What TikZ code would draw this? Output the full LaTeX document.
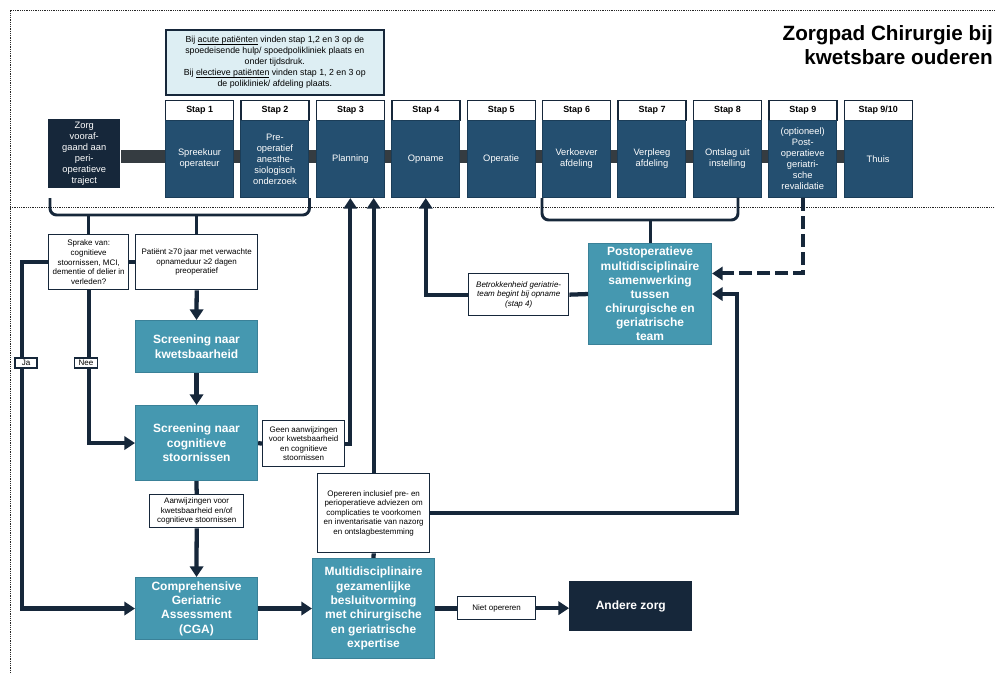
\documentclass[tikz,border=0pt]{standalone}
\usepackage{fontspec}
\setmainfont{Liberation Sans}
\usetikzlibrary{arrows.meta}
\definecolor{navy}{HTML}{16273A}
\definecolor{stepblue}{HTML}{244F70}
\definecolor{stepedge}{HTML}{1B3D58}
\definecolor{tealc}{HTML}{4598B0}
\definecolor{tealedge}{HTML}{3A8198}
\definecolor{infofill}{HTML}{DDEEF3}
\definecolor{barc}{HTML}{353C41}
\newcommand\undl[1]{\leavevmode\setbox0=\hbox{#1}\rlap{\raisebox{-1.4pt}{\rule{\wd0}{0.45pt}}}\box0\relax}
\pgfdeclarelayer{bg}\pgfsetlayers{bg,main}
\tikzset{
 wh/.style 2 args={minimum width=#1*0.75pt, minimum height=#2*0.75pt},
 base/.style={anchor=north west, inner sep=1pt, align=center},
 stephead/.style={base, draw=navy, line width=1pt, fill=white, font=\bfseries\fontsize{6.7}{8}\selectfont},
 stepbody/.style={base, draw=stepedge, line width=0.8pt, fill=stepblue, text=white, font=\fontsize{7}{8.25}\selectfont},
 darkbox/.style={base, fill=navy, text=white},
 tealbox/.style={base, draw=tealedge, line width=0.8pt, fill=tealc, text=white, font=\bfseries\fontsize{9}{10.8}\selectfont},
 wbox/.style={base, draw=navy, line width=1pt, fill=white, font=\fontsize{6}{7.2}\selectfont},
 lbl/.style={wbox, anchor=center, inner sep=0.5pt},
 conn/.style={draw=navy, line width=3.2pt},
 arr/.style={conn, -{Triangle[width=10pt,length=8pt]}},
 brk/.style={draw=navy, line width=2.2pt, rounded corners=5pt},
 dotl/.style={draw=black!85, line width=0.7pt, dash pattern=on 0.75pt off 0.6pt},
}
\begin{document}
\begin{tikzpicture}[x=0.75pt,y=-0.75pt]
\useasboundingbox (0,0) rectangle (995,673);
% title
\node[anchor=north east, align=right, inner sep=0, font=\bfseries\fontsize{15.5}{18}\selectfont] (title) at (993,25) {Zorgpad Chirurgie bij\\kwetsbare ouderen};
% info box
\node[base, draw=navy, line width=1.2pt, fill=infofill, wh={218}{65}, font=\fontsize{6.6}{8.2}\selectfont] (info) at (165,29)
 {Bij \undl{acute patiënten} vinden stap 1,2 en 3 op de\\spoedeisende hulp/ spoedpolikliniek plaats en\\onder tijdsdruk.\\Bij \undl{electieve patiënten} vinden stap 1, 2 en 3 op\\de polikliniek/ afdeling plaats.};
% zorg
\node[darkbox, wh={72}{69}, font=\fontsize{7}{8.25}\selectfont] (zorg) at (48,119) {Zorg\\vooraf-\\gaand aan\\peri-\\operatieve\\traject};
% steps
\node[stephead, wh={68}{20}] (h1) at (165,100) {Stap 1};
\node[stepbody, wh={68}{77}] (s1) at (165,120) {Spreekuur\\operateur};
\node[stephead, wh={68}{20}] (h2) at (240.4,100) {Stap 2};
\node[stepbody, wh={68}{77}] (s2) at (240.4,120) {Pre-\\operatief\\anesthe-\\siologisch\\onderzoek};
\node[stephead, wh={68}{20}] (h3) at (315.8,100) {Stap 3};
\node[stepbody, wh={68}{77}] (s3) at (315.8,120) {Planning};
\node[stephead, wh={68}{20}] (h4) at (391.2,100) {Stap 4};
\node[stepbody, wh={68}{77}] (s4) at (391.2,120) {Opname};
\node[stephead, wh={68}{20}] (h5) at (466.6,100) {Stap 5};
\node[stepbody, wh={68}{77}] (s5) at (466.6,120) {Operatie};
\node[stephead, wh={68}{20}] (h6) at (542,100) {Stap 6};
\node[stepbody, wh={68}{77}] (s6) at (542,120) {Verkoever\\afdeling};
\node[stephead, wh={68}{20}] (h7) at (617.4,100) {Stap 7};
\node[stepbody, wh={68}{77}] (s7) at (617.4,120) {Verpleeg\\afdeling};
\node[stephead, wh={68}{20}] (h8) at (692.8,100) {Stap 8};
\node[stepbody, wh={68}{77}] (s8) at (692.8,120) {Ontslag uit\\instelling};
\node[stephead, wh={68}{20}] (h9) at (768.2,100) {Stap 9};
\node[stepbody, wh={68}{77}] (s9) at (768.2,120) {(optioneel)\\Post-\\operatieve\\geriatri-\\sche\\revalidatie};
\node[stephead, wh={68}{20}] (h10) at (843.6,100) {Stap 9/10};
\node[stepbody, wh={68}{77}] (s10) at (843.6,120) {Thuis};
% lower boxes
\node[wbox, wh={80}{55}] (sprake) at (48,234) {Sprake van:\\cognitieve\\stoornissen, MCI,\\dementie of delier in\\verleden?};
\node[wbox, wh={122}{55}] (patient) at (135,234) {Patiënt ≥70 jaar met verwachte\\opnameduur ≥2 dagen\\preoperatief};
\node[tealbox, wh={122}{52}] (skw) at (135,320) {Screening naar\\kwetsbaarheid};
\node[tealbox, wh={122}{75}] (scog) at (135,405) {Screening naar\\cognitieve\\stoornissen};
\node[wbox, wh={82}{46}] (geen) at (262,420) {Geen aanwijzingen\\voor kwetsbaarheid\\en cognitieve\\stoornissen};
\node[wbox, wh={94}{33}] (aanw) at (149,494) {Aanwijzingen voor\\kwetsbaarheid en/of\\cognitieve stoornissen};
\node[tealbox, wh={122}{62}] (cga) at (135,577) {Comprehensive\\Geriatric\\Assessment\\(CGA)};
\node[tealbox, wh={122}{100}] (multi) at (312,558) {Multidisciplinaire\\gezamenlijke\\besluitvorming\\met chirurgische\\en geriatrische\\expertise};
\node[wbox, wh={112}{79}] (oper) at (317,473) {Opereren inclusief pre- en\\perioperatieve adviezen om\\complicaties te voorkomen\\en inventarisatie van nazorg\\en ontslagbestemming};
\node[wbox, wh={78}{23}] (niet) at (457,596) {Niet opereren};
\node[darkbox, wh={123}{50}, font=\bfseries\fontsize{9}{10.8}\selectfont] (andere) at (569,581) {Andere zorg};
\node[wbox, wh={100}{42}, font=\itshape\fontsize{6}{7.2}\selectfont] (betr) at (468,273) {Betrokkenheid geriatrie-\\team begint bij opname\\(stap 4)};
\node[tealbox, wh={123}{101}, inner sep=0pt, font=\bfseries\fontsize{9}{10.6}\selectfont] (postop) at (588,243) {Postoperatieve\\multidisciplinaire\\samenwerking\\tussen\\chirurgische en\\geriatrische\\team};
\node[lbl, wh={22}{10}] (ja) at (26,363) {Ja};
\node[lbl, wh={23}{10}] (nee) at (86,363) {Nee};
\coordinate (bl) at (0,215);
\coordinate (br) at (0,220);
\coordinate (br8) at (738,197);
\coordinate (jax) at (22,0);
\begin{pgfonlayer}{bg}
 \fill[barc] (zorg.east |- 0,150) rectangle (s10.west |- 0,163);
 \draw[dotl] (10,673) -- (10,10) -- (995,10);
 \draw[dotl] (10,207) -- (995,207);
 % brackets
 \draw[brk] ([xshift=1.5pt]zorg.south west |- s2.south) -- ([xshift=1.5pt]zorg.south west |- bl) -- (s2.south east |- bl) -- (s2.south east);
 \draw[brk] (sprake.north) -- (sprake.north |- bl);
 \draw[brk] (patient.north) -- (patient.north |- bl);
 \draw[brk] (s6.south west) -- (s6.south west |- br) -- (br8 |- br) -- (br8);
 \draw[brk] (postop.north) -- (postop.north |- br);
 % connectors
 \draw[conn] (sprake.east) -- (patient.west);
 \draw[arr] (sprake.west) -| (jax |- sprake.west) |- (cga.west);
 \draw[arr] (sprake.south) |- (scog.west);
 \draw[arr] (patient.south) -- (skw.north);
 \draw[arr] (skw.south) -- (scog.north);
 \draw[conn] (scog.east) -- (geen.west);
 \draw[arr] (geen.east) -| (s3.south);
 \draw[conn] (scog.south) -- (aanw.north);
 \draw[arr] (aanw.south) -- (cga.north);
 \draw[arr] (cga.east) -- (multi.west);
 \draw[conn] (multi.east) -- (multi.east -| niet.west);
 \draw[arr] (niet.east) -- (niet.east -| andere.west);
 \draw[conn] (multi.north) -- (oper.south);
 \draw[arr] (oper.north) -- (oper.north |- s3.south);
 \draw[arr, line width=2.6pt] (oper.east) -| ([xshift=18.75pt]postop.east) -- (postop.east);
 \draw[arr] (betr.west) -| (s4.south);
 \draw[conn] (postop.west) -- (betr.east);
 \draw[arr, line width=3pt, dash pattern=on 10pt off 3.5pt] (s9.south) |- ([yshift=15.4pt]postop.east);
\end{pgfonlayer}
\end{tikzpicture}
\end{document}
